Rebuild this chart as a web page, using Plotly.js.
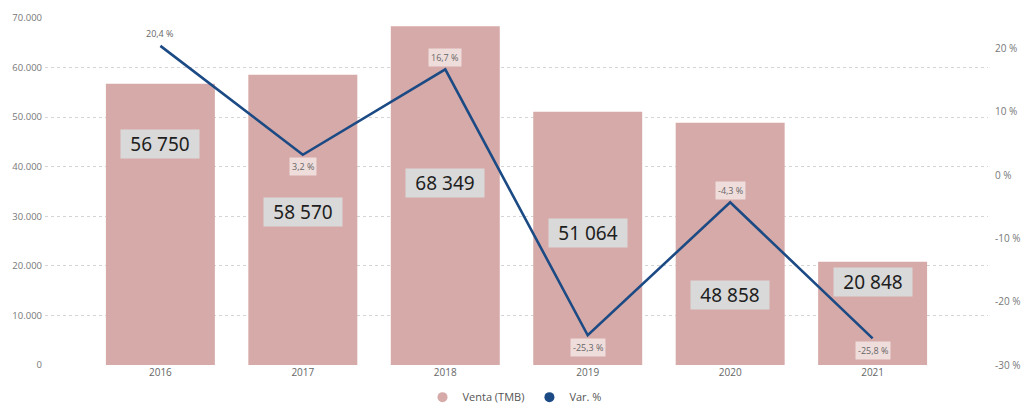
<!DOCTYPE html>
<html>
<head>
<meta charset="utf-8">
<script src="https://cdn.plot.ly/plotly-3.0.1.min.js"></script>
<style>html,body{margin:0;padding:0;background:#fff;}#chart{width:1029px;height:404px;}</style>
</head>
<body>
<div id="chart"></div>
<script>
// ---- data ----
const years = ['2016', '2017', '2018', '2019', '2020', '2021'];
const venta = [56750, 58570, 68349, 51064, 48858, 20848];
const varPct = [20.4, 3.2, 16.7, -25.3, -4.3, -25.8];
const leftTicks = [0, 10000, 20000, 30000, 40000, 50000, 60000, 70000];
const rightTicks = [-30, -20, -10, 0, 10, 20];
const rightTickText = ['-30 %', '-20 %', '-10 %', '0 %', '10 %', '20 %'];

// ---- label placement (layout only) ----
const barLabelY = [44500, 30850, 36700, 26600, 14100, 16750];
const pctLabelSide = [1, -1, 1, -1, 1, -1];

const barColor = '#d6aaa8';
const lineColor = '#1b4a84';

const fmtSpace = v => String(v).replace(/\B(?=(\d{3})+(?!\d))/g, ' ');
const fmtPct = v => String(v).replace('.', ',') + ' %';

const traces = [
  {type: 'bar', x: years, y: venta, name: 'Venta (TMB)', marker: {color: barColor},
   showlegend: false, hoverinfo: 'x+y'},
  {type: 'scatter', mode: 'lines', x: years, y: varPct, yaxis: 'y2', name: 'Var. %',
   line: {color: lineColor, width: 2.6}, showlegend: false},
  {type: 'scatter', mode: 'markers', x: [null], y: [null], name: 'Venta (TMB)',
   marker: {color: barColor, size: 10, symbol: 'circle'}, showlegend: true},
  {type: 'scatter', mode: 'markers', x: [null], y: [null], name: 'Var. %',
   marker: {color: lineColor, size: 10, symbol: 'circle'}, showlegend: true}
];

const annotations = [];
years.forEach((yr, i) => {
  annotations.push({
    x: i, y: barLabelY[i], xref: 'x', yref: 'y', text: fmtSpace(venta[i]),
    showarrow: false, bgcolor: '#d9d9d9', width: 76, height: 26, borderpad: 1,
    font: {family: 'Noto Sans, Open Sans, sans-serif', size: 19, color: '#1e1e1e'}
  });
  annotations.push({
    x: i, y: varPct[i], xref: 'x', yref: 'y2', text: fmtPct(varPct[i]),
    showarrow: false, yshift: pctLabelSide[i] * 12,
    bgcolor: i > 0 ? 'rgba(255,255,255,0.6)' : 'rgba(255,255,255,0)',
    borderpad: 2,
    font: {family: 'Open Sans, sans-serif', size: 9, color: '#666'}
  });
});

const layout = {
  width: 1029, height: 404,
  margin: {l: 45, r: 41, t: 18, b: 39},
  paper_bgcolor: '#fff', plot_bgcolor: '#fff',
  separators: ',.',
  bargap: 0.235,
  showlegend: true,
  legend: {orientation: 'h', x: 0.5, xanchor: 'center', xref: 'container',
           y: 0.017, yanchor: 'middle', yref: 'container',
           font: {family: 'Open Sans, sans-serif', size: 11, color: '#555'},
           itemwidth: 30, tracegroupgap: 0},
  xaxis: {type: 'category', range: [-0.81, 5.81], showgrid: false, zeroline: false,
          showline: false, ticks: '',
          tickfont: {family: 'Open Sans, sans-serif', size: 10, color: '#666'}},
  yaxis: {range: [0, 70000], tickvals: leftTicks, tickformat: ',d', showgrid: true,
          gridcolor: '#d4d4d4', griddash: 'dot', gridwidth: 1, zeroline: false,
          showline: false, ticks: '', ticklabelstandoff: 2,
          tickfont: {family: 'Open Sans, sans-serif', size: 9.5, color: '#777'}},
  yaxis2: {overlaying: 'y', side: 'right', range: [-30, 24.8], tickvals: rightTicks,
           ticktext: rightTickText, showgrid: false, zeroline: false, showline: false,
           ticks: '', ticklabelstandoff: 6,
           tickfont: {family: 'Open Sans, sans-serif', size: 10, color: '#777'}},
  annotations: annotations
};

Plotly.newPlot('chart', traces, layout, {displayModeBar: false, staticPlot: true});
</script>
</body>
</html>
